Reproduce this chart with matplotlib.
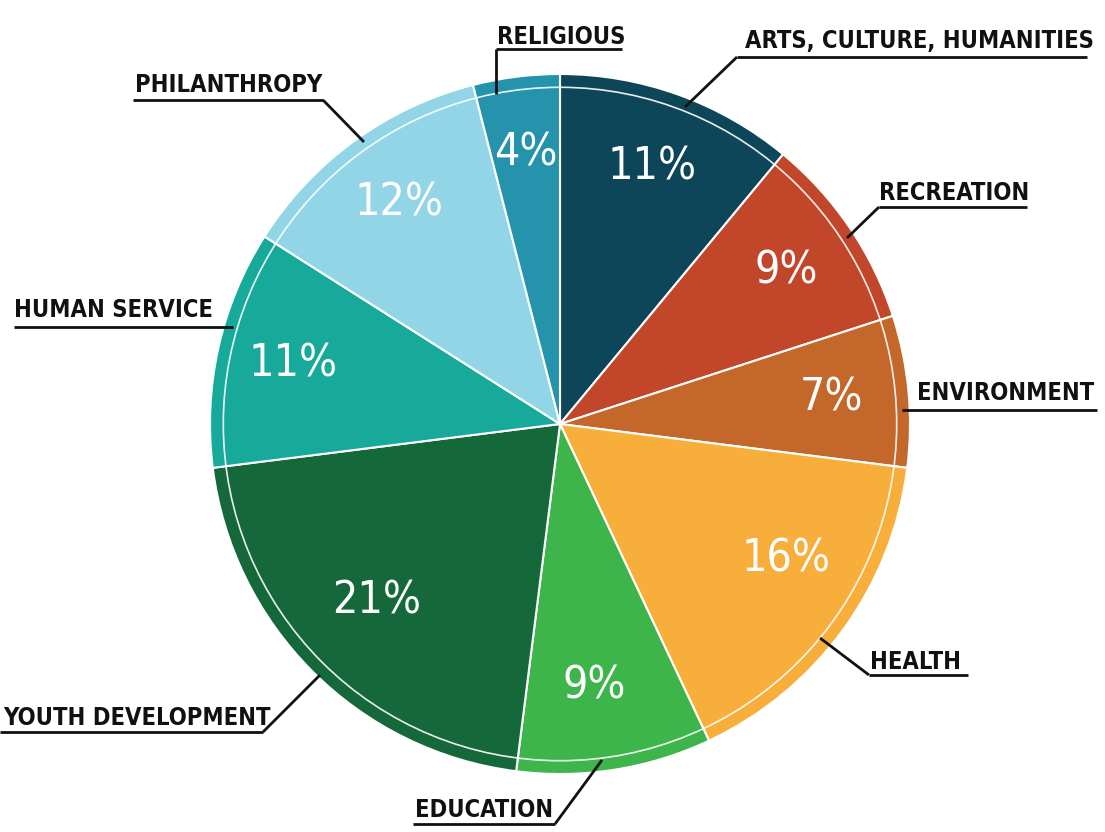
import matplotlib
matplotlib.use("Agg")
import matplotlib.pyplot as plt
from matplotlib.patches import Circle

categories = ["ARTS, CULTURE, HUMANITIES", "RECREATION", "ENVIRONMENT", "HEALTH",
              "EDUCATION", "YOUTH DEVELOPMENT", "HUMAN SERVICE", "PHILANTHROPY", "RELIGIOUS"]
values = [11, 9, 7, 16, 9, 21, 11, 12, 4]
colors = ["#0d4658", "#c2462a", "#c4672b", "#f7ae3b", "#3eb54b",
          "#14683a", "#17aa9b", "#92d5e7", "#2493ab"]

# label layout (pixel coordinates): text x, baseline y, underline y, underline x0, x1, leader
label_layout = {
    "ARTS, CULTURE, HUMANITIES": (745, 48, 57, 737, 1087, [(737, 57), (685, 107)]),
    "RECREATION": (879, 200, 207, 879, 1027, [(879, 207), (847, 238)]),
    "ENVIRONMENT": (917, 400, 410, 902, 1097, [(902, 410), (902, 410)]),
    "HEALTH": (870, 669, 675, 869, 968, [(869, 675), (820, 638)]),
    "EDUCATION": (415, 817, 824, 413, 555, [(555, 824), (602, 760)]),
    "YOUTH DEVELOPMENT": (3, 725, 732, 0, 263, [(263, 732), (320, 675)]),
    "HUMAN SERVICE": (14, 317, 327, 14, 233, [(233, 327), (233, 327)]),
    "PHILANTHROPY": (135, 92, 100, 133, 323, [(323, 100), (364, 142)]),
    "RELIGIOUS": (497, 44, 49, 496, 622, [(496, 49), (496, 94)]),
}
# small pixel nudges of the percentage labels
pct_offsets = {"HEALTH": (5, -25), "YOUTH DEVELOPMENT": (10, -16), "EDUCATION": (-8, -8)}

W, H = 1105, 832
fig = plt.figure(figsize=(W / 100, H / 100), dpi=100)
ax = fig.add_axes([0, 0, 1, 1])
ax.set_aspect("equal")
ax.axis("off")

cx, cy, R = 560, 424, 350
wedges, texts, autotexts = ax.pie(
    values, colors=colors, startangle=-90, counterclock=True,
    center=(cx, cy), radius=R, autopct="%d%%", pctdistance=0.78,
    wedgeprops=dict(edgecolor="white", linewidth=1.5),
    textprops=dict(color="white", fontsize=32, family="DejaVu Sans",
                   fontstretch="condensed"),
)
for cat, at in zip(categories, autotexts):
    if cat in pct_offsets:
        x, y = at.get_position()
        dx, dy = pct_offsets[cat]
        at.set_position((x + dx, y + dy))

ax.set_xlim(0, W)
ax.set_ylim(H, 0)
ax.add_patch(Circle((cx, cy), R * 0.962, fill=False, ec="white", lw=1.2, alpha=0.9))

for cat in categories:
    tx, ty, uy, ux0, ux1, leader = label_layout[cat]
    ax.text(tx, ty, cat, ha="left", va="baseline", fontsize=17, fontweight="bold",
            family="DejaVu Sans", fontstretch="condensed", color="#111111")
    ax.plot([ux0, ux1], [uy, uy], color="#111111", lw=2, solid_capstyle="butt")
    (x0, y0), (x1, y1) = leader
    ax.plot([x0, x1], [y0, y1], color="#111111", lw=2, solid_capstyle="butt")

fig.savefig("out.png", dpi=100, facecolor="white")
